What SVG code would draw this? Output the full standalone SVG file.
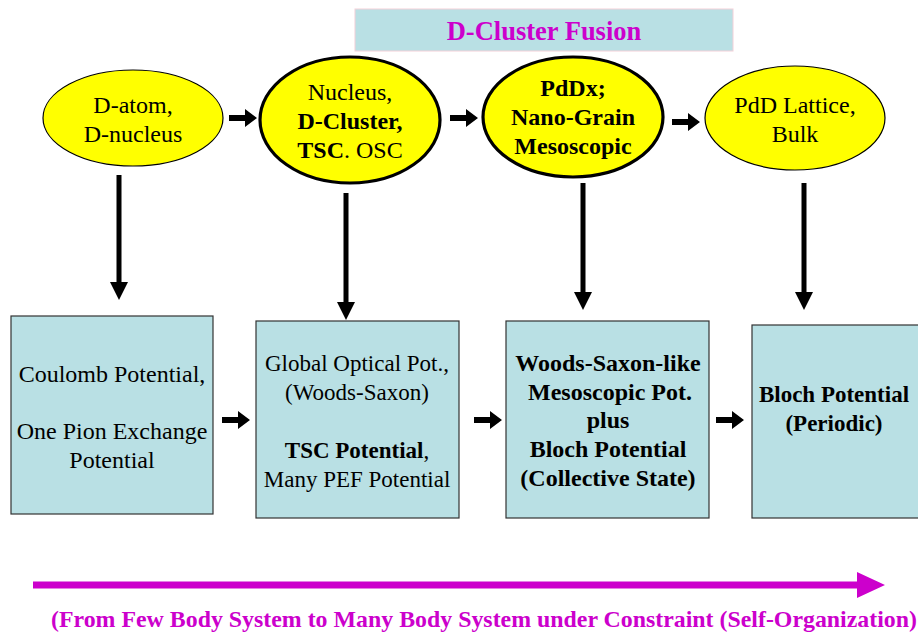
<svg xmlns="http://www.w3.org/2000/svg" width="918" height="635" viewBox="0 0 918 635">
<style>
text{font-family:"Liberation Serif","Times New Roman",serif;font-size:24px;fill:#000;text-anchor:middle}
.b{font-weight:bold}
.s23{font-size:23px}
.ell{fill:#ffff00;stroke:#000}
.thin{stroke-width:1.2}
.thick{stroke-width:3.2}
.box{fill:#b9e0e4;stroke:#333;stroke-width:1.2}
.mag{fill:#cc00cc}
</style>
<defs>
<path id="ha" d="M0,-3 L16,-3 L16,-9 L28,0 L16,9 L16,3 L0,3 Z" fill="#000"/>
<path id="va" d="M-9,-18 L9,-18 L0,0 Z" fill="#000"/>
</defs>
<g id="title">
<rect x="355" y="9" width="378" height="42" fill="#b9e0e4" stroke="#f4d0d8" stroke-width="1"/>
<text x="544" y="40" class="b mag" style="font-size:26.5px">D-Cluster Fusion</text>
</g>
<g id="n1">
<ellipse cx="133" cy="118" rx="90" ry="48" class="ell thin"/>
<text x="133" y="113">D-atom,</text>
<text x="133" y="142">D-nucleus</text>
</g>
<g id="n2">
<ellipse cx="350" cy="120" rx="90" ry="63" class="ell thick"/>
<text x="350" y="100">Nucleus,</text>
<text x="350" y="129" class="b">D-Cluster,</text>
<text x="350" y="158"><tspan class="b">TSC</tspan>. OSC</text>
</g>
<g id="n3">
<ellipse cx="573" cy="117" rx="90" ry="60" class="ell thick"/>
<text x="573" y="96" class="b">PdDx;</text>
<text x="573" y="125" class="b">Nano-Grain</text>
<text x="573" y="154" class="b">Mesoscopic</text>
</g>
<g id="n4">
<ellipse cx="795" cy="118" rx="90" ry="52" class="ell thin"/>
<text x="795" y="113">PdD Lattice,</text>
<text x="795" y="142">Bulk</text>
</g>
<g id="b1">
<rect x="11" y="316" width="202" height="198" class="box"/>
<text x="112" y="382">Coulomb Potential,</text>
<text x="112" y="439">One Pion Exchange</text>
<text x="112" y="468">Potential</text>
</g>
<g id="b2">
<rect x="256" y="321" width="203" height="197" class="box"/>
<text x="357" y="371" class="s23">Global Optical Pot.,</text>
<text x="357" y="400" class="s23">(Woods-Saxon)</text>
<text x="357" y="458" class="s23"><tspan class="b">TSC Potential</tspan>,</text>
<text x="357" y="487" class="s23">Many PEF Potential</text>
</g>
<g id="b3">
<rect x="506" y="321" width="203" height="197" class="box"/>
<text x="608" y="371" class="b">Woods-Saxon-like</text>
<text x="610" y="400" class="b">Mesoscopic Pot.</text>
<text x="608" y="428" class="b">plus</text>
<text x="608" y="457" class="b">Bloch Potential</text>
<text x="608" y="486" class="b">(Collective State)</text>
</g>
<g id="b4">
<rect x="752" y="325" width="170" height="193" class="box"/>
<text x="834" y="402" class="b s23">Bloch Potential</text>
<text x="834" y="431" class="b s23">(Periodic)</text>
</g>
<g id="connectors">
<use href="#ha" x="229" y="118"/>
<use href="#ha" x="450" y="118"/>
<use href="#ha" x="672" y="122"/>
<rect x="116.5" y="175" width="5" height="110" fill="#000"/>
<use href="#va" x="119" y="300"/>
<rect x="343.5" y="193" width="5" height="112" fill="#000"/>
<use href="#va" x="346" y="320"/>
<rect x="580.5" y="183" width="5" height="112" fill="#000"/>
<use href="#va" x="583" y="310"/>
<rect x="801.5" y="183" width="5" height="112" fill="#000"/>
<use href="#va" x="804" y="310"/>
<use href="#ha" x="222" y="420"/>
<use href="#ha" x="474" y="420"/>
<use href="#ha" x="716" y="420"/>
</g>
<g id="bottom">
<path d="M33,581.5 L857,581.5 L857,572 L885,585 L857,598 L857,588.5 L33,588.5 Z" fill="#cc00cc"/>
<text x="484" y="627" class="b mag" style="font-size:23px" textLength="866" lengthAdjust="spacingAndGlyphs">(From Few Body System to Many Body System under Constraint (Self-Organization)</text>
</g>
</svg>
